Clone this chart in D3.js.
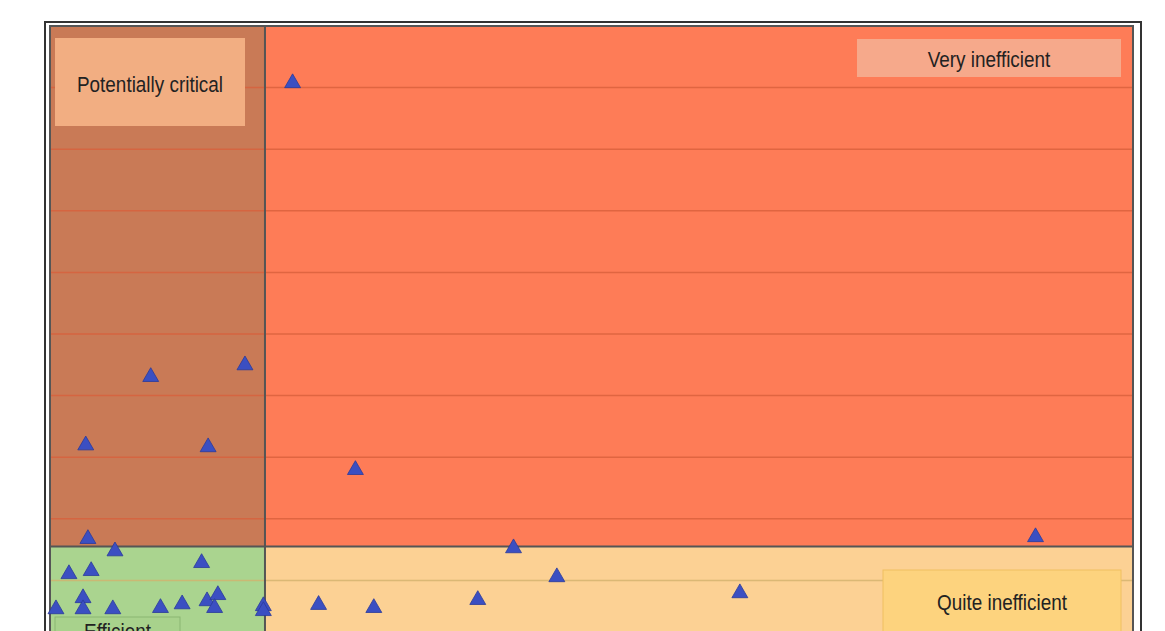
<!DOCTYPE html><html><head><meta charset="utf-8">
<script src="https://cdn.jsdelivr.net/npm/d3@7"></script>
<style>body{margin:0;background:#fff}text{font-family:"Liberation Sans",Arial,sans-serif}</style></head><body>
<svg id="c" width="1165" height="631"></svg>
<script>
const xs=[22.4,9.3,18.0,3.3,14.6,28.2,3.5,6.0,1.75,3.8,14.0,42.8,91.0,46.8,63.7,39.5,24.8,29.9,0.55,3.05,3.05,5.8,10.2,12.2,14.5,15.5,15.2,19.7,19.7];
const ys=[9.09,4.32,4.51,3.21,3.18,2.81,1.69,1.49,1.12,1.17,1.30,1.54,1.72,1.07,0.81,0.70,0.62,0.57,0.55,0.73,0.55,0.55,0.57,0.63,0.68,0.78,0.57,0.60,0.52];
const gridY=[1,2,3,4,5,6,7,8,9];
const xSplit=19.85, ySplit=1.55;
const svg=d3.select("#c");
const x=d3.scaleLinear().domain([0,100]).range([50,1133]);
const y=d3.scaleLinear().domain([0,10]).range([642,26]);
svg.append("rect").attr("x",45).attr("y",22).attr("width",1096).attr("height",640).attr("fill","#fff").attr("stroke","#333").attr("stroke-width",2);
const zones=[[0,xSplit,ySplit,10,"#c97a56"],[xSplit,100,ySplit,10,"#fe7c57"],[0,xSplit,-1,ySplit,"#aad48f"],[xSplit,100,-1,ySplit,"#fcd194"]];
zones.forEach(z=>svg.append("rect").attr("x",x(z[0])).attr("y",y(z[3])).attr("width",x(z[1])-x(z[0])).attr("height",y(z[2])-y(z[3])).attr("fill",z[4]));
svg.selectAll(".g").data(gridY).enter().append("line").attr("x1",x(0)).attr("x2",x(100)).attr("y1",d=>y(d)).attr("y2",d=>y(d)).attr("stroke",d=>d<ySplit?"#d4b26e":"#d9603c").attr("stroke-width",1.5).attr("opacity",0.8);
svg.append("line").attr("x1",x(xSplit)).attr("x2",x(xSplit)).attr("y1",y(10)).attr("y2",640).attr("stroke","#555").attr("stroke-width",2);
svg.append("line").attr("x1",x(0)).attr("x2",x(100)).attr("y1",y(ySplit)).attr("y2",y(ySplit)).attr("stroke","#555").attr("stroke-width",2);
svg.append("rect").attr("x",x(0)).attr("y",y(10)).attr("width",x(100)-x(0)).attr("height",640).attr("fill","none").attr("stroke","#555").attr("stroke-width",2);
function label(x0,y0,w,h,fill,t,ty,stroke){svg.append("rect").attr("x",x0).attr("y",y0).attr("width",w).attr("height",h).attr("fill",fill).attr("stroke",stroke||"none");
const cx=x0+w/2;
svg.append("text").attr("transform",`translate(${cx},${ty}) scale(0.86,1)`).attr("text-anchor","middle").attr("font-size",22).attr("fill","#222").text(t);}
label(55,38,190,88,"#f2ae82","Potentially critical",92);
label(857,39,264,38,"#f6a98b","Very inefficient",67);
label(883,570,238,70,"#fdd37e","Quite inefficient",610,"#f0c060");
label(55,617,125,40,"#a8d28c","Efficient",639,"#8ab672");
const tri=d3.symbol().type(d3.symbolTriangle).size(110);
svg.selectAll(".p").data(xs).enter().append("path").attr("d",tri).attr("transform",(d,i)=>`translate(${x(d)},${y(ys[i])+1})`).attr("fill","#3b4fc2").attr("stroke","#2a3a9a").attr("stroke-width",0.8);
</script></body></html>
